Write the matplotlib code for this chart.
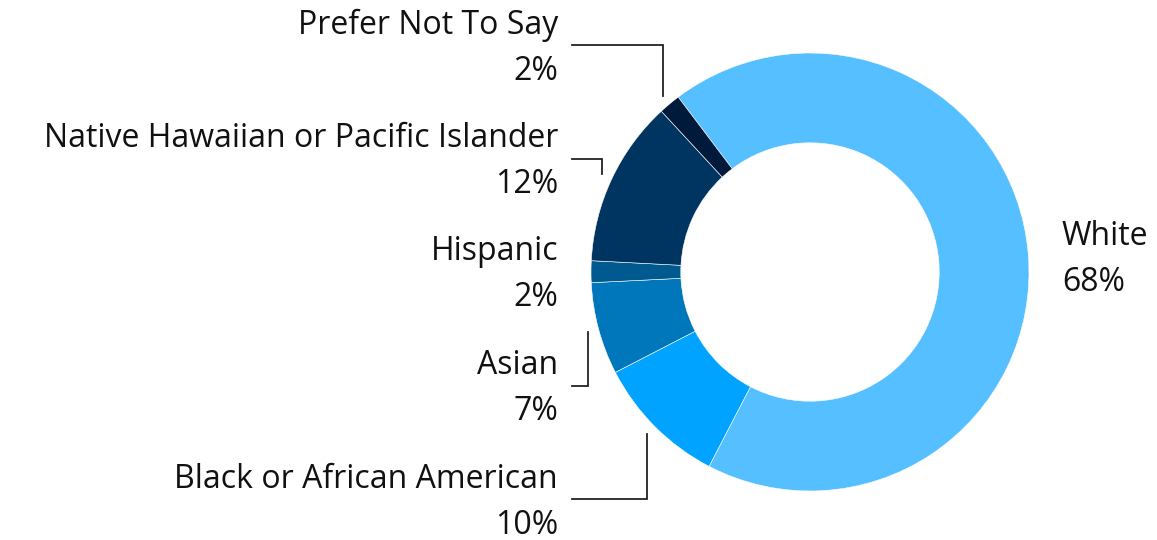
import numpy as np
import matplotlib.pyplot as plt

# ethnicity breakdown, in percent
groups = ["White", "Black or African American", "Asian", "Hispanic",
          "Native Hawaiian or Pacific Islander", "Prefer Not To Say"]
shares = [67.9, 9.8, 6.8, 1.6, 12.3, 1.6]
colors = ["#55BFFF", "#00A3FF", "#0076BB", "#005A8F", "#003562", "#001A3B"]

W, H = 1157, 540
cx, cy, R = 810, 268, 219
start = 127

plt.rcParams['font.family'] = ['Open Sans', 'DejaVu Sans']

fig = plt.figure(figsize=(W / 100, H / 100), dpi=100)
ax = fig.add_axes([0, 0, 1, 1])

wedges, _ = ax.pie(shares, colors=colors, radius=R, center=(cx, cy),
                   startangle=start, counterclock=False,
                   wedgeprops=dict(width=R * 0.41, edgecolor='white', linewidth=0.4))
ax.set_xlim(0, W)
ax.set_ylim(0, H)
ax.set_aspect('equal')
ax.axis('off')

txt = dict(fontsize=23, color='#111111', va='center')
gap = 23  # half the distance between name line and percent line


def label(x, y, i, ha):
    y = y - 3
    ax.text(x, y + gap, groups[i], ha=ha, **txt)
    ax.text(x, y - gap, f"{shares[i]:.0f}%", ha=ha, **txt)


# left side labels are spread evenly from top to bottom
left = list(range(1, len(groups)))[::-1]
label_y = np.linspace(H - 45, H - 499, len(left))
for i, ly in zip(left, label_y):
    w = wedges[i]
    mid = np.deg2rad((w.theta1 + w.theta2) / 2)
    px = cx + R * 1.05 * np.cos(mid)
    py = cy + R * 1.05 * np.sin(mid)
    label(558, ly, i, 'right')
    if px - 572 > 12:
        ax.plot([572, px, px], [ly, ly, py], color='#222222', lw=1.3,
                solid_joinstyle='miter')

# label for the big slice on the right
w = wedges[0]
mid = np.deg2rad((w.theta1 + w.theta2) / 2)
label(1062, cy + R * np.sin(mid) - 3, 0, 'left')

fig.savefig("out.png", dpi=100)
